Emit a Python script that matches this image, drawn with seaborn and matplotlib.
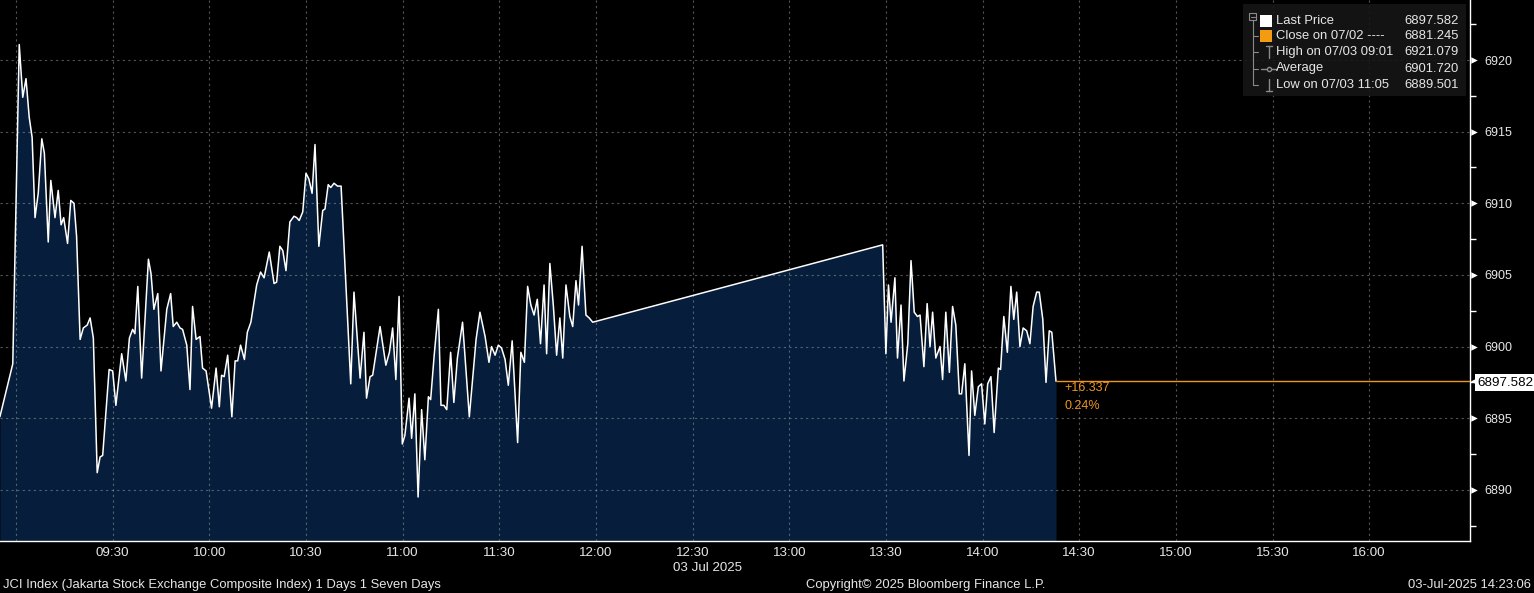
import matplotlib
matplotlib.use("Agg")
import matplotlib.pyplot as plt
import matplotlib.transforms as mtransforms
from matplotlib.patches import Rectangle
from matplotlib.lines import Line2D
import numpy as np
import pandas as pd
import seaborn as sns

# ---------------- data ----------------
minutes_after_0900 = [
    -5.0, -1.0, 1.0, 2.1, 3.1, 4.1, 5.0, 5.9, 6.9, 8.0, 8.8, 10.0, 10.8, 12.1, 13.1, 14.0, 14.8,
    16.0, 17.0, 18.0, 18.8, 19.9, 20.9, 22.1, 23.0, 24.0, 25.2, 26.1, 26.9, 28.9, 30.0, 31.0,
    32.8, 34.1, 35.2, 36.2, 36.9, 37.8, 39.0, 41.1, 41.9, 42.8, 44.0, 45.0, 46.8, 48.0, 48.8,
    49.9, 50.9, 51.7, 53.0, 54.0, 54.8, 55.9, 57.1, 57.9, 59.0, 60.7, 62.1, 63.1, 63.8, 64.6,
    65.7, 67.0, 68.0, 68.8, 69.7, 70.9, 71.8, 72.9, 74.7, 75.9, 77.0, 78.6, 80.1, 80.9, 81.9,
    82.8, 83.8, 85.0, 86.3, 87.1, 87.9, 89.0, 90.0, 90.9, 91.9, 92.8, 94.0, 95.2, 95.9, 96.9,
    97.7, 98.7, 99.8, 100.9, 103.9, 104.9, 106.8, 108.0, 108.8, 109.9, 110.7, 113.0, 114.8,
    115.9, 116.9, 117.9, 118.9, 119.9, 120.7, 122.0, 122.8, 123.8, 124.8, 125.9, 126.9, 128.0,
    128.7, 129.8, 131.1, 131.9, 132.8, 133.7, 134.9, 135.9, 137.0, 138.6, 140.7, 142.8, 144.0,
    145.6, 146.8, 147.6, 148.7, 149.7, 150.7, 151.8, 152.8, 154.0, 155.7, 156.7, 157.8, 158.8,
    159.8, 160.8, 161.8, 162.8, 163.9, 164.7, 165.7, 166.8, 167.8, 168.8, 169.7, 170.7, 171.9,
    172.8, 173.8, 174.6, 175.7, 176.9, 177.9, 179.0,
    269.0, 270.0, 270.8, 271.6, 272.8, 273.6, 274.7, 275.6, 276.8, 277.8, 278.8, 279.8, 280.6,
    281.8, 282.8, 283.7, 284.5, 285.5, 286.8, 287.6, 288.6, 289.7, 290.7, 291.7, 292.8, 293.5,
    294.5, 295.8, 296.6, 297.6, 298.7, 299.7, 300.7, 301.6, 302.6, 303.6, 304.9, 305.6, 306.6,
    307.7, 308.8, 309.7, 310.6, 311.6, 312.6, 313.7, 314.7, 315.7, 316.8, 317.6, 318.7, 319.7,
    320.7, 321.5, 322.8,
]
price = [
    6895.1, 6898.8, 6921.079, 6917.4, 6918.7, 6916.0, 6914.6, 6909.0, 6910.7, 6914.5, 6913.5,
    6907.3, 6911.6, 6909.0, 6910.9, 6908.5, 6909.0, 6907.2, 6910.2, 6910.0, 6907.7, 6900.5,
    6901.3, 6901.5, 6902.0, 6900.6, 6891.2, 6892.3, 6892.4, 6898.4, 6898.3, 6895.9, 6899.5,
    6897.6, 6900.6, 6901.2, 6900.9, 6904.2, 6897.8, 6906.1, 6905.1, 6902.6, 6903.7, 6898.3,
    6902.6, 6903.7, 6901.4, 6901.7, 6901.3, 6901.2, 6900.1, 6897.0, 6902.8, 6900.5, 6900.7,
    6898.5, 6898.3, 6895.7, 6898.5, 6895.8, 6898.0, 6897.9, 6899.4, 6895.1, 6899.0, 6899.0,
    6900.1, 6899.1, 6901.0, 6901.7, 6904.3, 6905.2, 6904.8, 6906.6, 6904.4, 6904.5, 6907.0,
    6906.7, 6905.3, 6908.7, 6909.1, 6909.0, 6908.8, 6909.4, 6912.1, 6911.7, 6910.7, 6914.1,
    6907.0, 6909.5, 6909.6, 6911.3, 6911.1, 6911.4, 6911.2, 6911.2, 6897.4, 6903.8, 6897.8,
    6901.0, 6896.4, 6897.9, 6898.0, 6901.4, 6898.7, 6899.6, 6901.3, 6897.7, 6903.5, 6893.2,
    6893.8, 6896.4, 6893.6, 6896.7, 6889.501, 6895.6, 6892.1, 6896.5, 6896.3, 6899.4, 6902.6,
    6895.9, 6895.9, 6895.6, 6899.6, 6896.1, 6899.2, 6901.7, 6895.1, 6900.5, 6902.4, 6900.7,
    6898.9, 6900.0, 6899.4, 6900.1, 6899.9, 6899.1, 6897.3, 6900.4, 6893.3, 6899.6, 6898.9,
    6904.2, 6902.9, 6902.2, 6903.3, 6900.2, 6904.3, 6899.5, 6905.8, 6902.8, 6899.4, 6902.0,
    6899.2, 6904.3, 6902.1, 6901.4, 6904.6, 6902.9, 6907.0, 6902.2, 6902.0, 6901.7,
    6907.1, 6899.5, 6904.3, 6901.7, 6904.8, 6899.2, 6902.9, 6897.6, 6900.2, 6906.0, 6902.4,
    6902.1, 6902.2, 6898.6, 6903.0, 6900.0, 6902.4, 6899.2, 6900.0, 6897.7, 6902.4, 6898.2,
    6902.8, 6901.5, 6896.7, 6896.7, 6898.8, 6892.4, 6898.3, 6895.2, 6897.2, 6897.4, 6894.6,
    6897.4, 6897.9, 6894.0, 6898.5, 6898.4, 6902.1, 6899.6, 6904.2, 6901.9, 6903.8, 6900.0,
    6901.3, 6901.1, 6900.2, 6902.8, 6903.8, 6903.8, 6901.9, 6897.5, 6901.1, 6901.0, 6897.582,
]

x_tick_minutes = [0, 30, 60, 90, 120, 150, 180, 210, 240, 270, 300, 330, 360, 390, 420]
x_tick_labels = ["", "09:30", "10:00", "10:30", "11:00", "11:30", "12:00", "12:30",
                 "13:00", "13:30", "14:00", "14:30", "15:00", "15:30", "16:00"]
y_ticks = [6890, 6895, 6900, 6905, 6910, 6915, 6920]
date_label = "03 Jul 2025"

prev_close = 6881.245
legend_labels = ["Last Price", "Close on 07/02 ----", "High on 07/03 09:01",
                 "Average", "Low on 07/03 11:05"]
legend_values = [6897.582, 6881.245, 6921.079, 6901.720, 6889.501]

footer_left = "JCI Index (Jakarta Stock Exchange Composite Index) 1 Days 1 Seven Days"
footer_mid = "Copyright\u00a9 2025 Bloomberg Finance L.P."
footer_right = "03-Jul-2025 14:23:06"

# ---------------- style ----------------
sns.set_style("dark")
plt.rcParams["font.family"] = ["Liberation Sans", "DejaVu Sans"]
FS = 9.4

TXT = "#e6e6e6"
ORANGE = "#f0961e"
FILL = "#061e3c"
W, H = 1534, 593
XMIN, XMAX = -4.97, 451.3
YMIN, YMAX = 6886.43, 6924.19


def fx(px):
    return px / W


def fy(py):
    return 1 - py / H


fig = plt.figure(figsize=(W / 100, H / 100), dpi=100, facecolor="black")
ax = fig.add_axes([0, 52 / H, 1470 / W, 541 / H])
ax.set_facecolor("black")

df = pd.DataFrame({"minute": minutes_after_0900, "price": price})
ax.fill_between(df["minute"], df["price"], YMIN, color=FILL, lw=0, zorder=1)
sns.lineplot(data=df, x="minute", y="price", color="white", lw=1.1, ax=ax,
             zorder=3, sort=False)
ax.set_xlabel("")
ax.set_ylabel("")

# ticks & grid
ax.set_xticks(x_tick_minutes)
ax.set_xticklabels(x_tick_labels)
ax.set_xticks([m + 15 for m in x_tick_minutes], minor=True)
ax.yaxis.tick_right()
ax.set_yticks(y_ticks)
ax.set_yticklabels([str(v) for v in y_ticks])
ax.set_yticks([v + 2.5 for v in y_ticks] + [y_ticks[0] - 2.5], minor=True)
ax.set_xlim(XMIN, XMAX)
ax.set_ylim(YMIN, YMAX)
ax.grid(True, which="major", color="#9a9a9a", alpha=0.55, lw=0.8,
        linestyle=(0, (2, 3)), zorder=2)
ax.set_axisbelow(False)

for s in ["top", "left"]:
    ax.spines[s].set_visible(False)
for s in ["bottom", "right"]:
    ax.spines[s].set_color("white")
    ax.spines[s].set_linewidth(1.0)

ax.tick_params(axis="x", which="major", colors="white", length=4, width=1,
               labelsize=9.6, labelcolor=TXT, pad=0)
ax.tick_params(axis="x", which="minor", colors="white", length=4, width=1)
ax.tick_params(axis="y", which="major", length=0, pad=10, labelsize=9,
               labelcolor=TXT, right=True, left=False)
ax.tick_params(axis="y", which="minor", colors="white", length=4, width=1,
               right=True, left=False)

# triangle markers at major y ticks
tr = mtransforms.blended_transform_factory(ax.transAxes, ax.transData)
ax.scatter([1.0025] * len(y_ticks), y_ticks, marker=">", s=22, color="white",
           transform=tr, clip_on=False, zorder=5, linewidths=0)

# last price line and labels
last_m, last_v = minutes_after_0900[-1], price[-1]
ax.hlines(last_v, last_m, XMAX, color=ORANGE, lw=1.0, zorder=4)
chg = last_v - prev_close
pct = chg / prev_close * 100
ax.annotate(f"+{chg:.3f}", xy=(last_m, last_v), xytext=(6, -5),
            textcoords="offset points", color=ORANGE, fontsize=9,
            va="center", ha="left")
ax.annotate(f"{pct:.2f}%", xy=(last_m, last_v), xytext=(6, -17.5),
            textcoords="offset points", color=ORANGE, fontsize=9,
            va="center", ha="left")
ax.scatter([1.0035], [last_v], marker="<", s=45, color="white", transform=tr,
           clip_on=False, zorder=6, linewidths=0)
ax.annotate(f"{last_v:.3f}", xy=(1.0, last_v), xycoords=tr, xytext=(5.5, -1),
            textcoords="offset points", color="black", fontsize=9.6,
            va="center", ha="left", annotation_clip=False, zorder=7,
            bbox=dict(boxstyle="square,pad=0.2", fc="white", ec="none"))

# date label under axis
fig.text(fx(708), fy(568), date_label, color=TXT, fontsize=9.6, ha="center", va="center")

# footer
fig.text(fx(3), fy(585), footer_left, color=TXT, fontsize=FS, ha="left", va="center")
fig.text(fx(926), fy(585), footer_mid, color=TXT, fontsize=FS, ha="center", va="center")
fig.text(fx(1531), fy(585), footer_right, color=TXT, fontsize=FS, ha="right", va="center")

# ---------------- legend box ----------------
T = fig.transFigure
fig.add_artist(Rectangle((fx(1243), fy(96)), fx(1466) - fx(1243), fy(4) - fy(96),
                         transform=T, fc="#161616", ec="none", alpha=0.88, zorder=10))
rows = [20.5, 36.3, 52.3, 68.5, 84.5]
GRAY = "#8a8a8a"
# tree
fig.add_artist(Rectangle((fx(1249), fy(20)), fx(7), 7 / H, transform=T, fc="none",
                         ec=GRAY, lw=0.8, zorder=11))
fig.add_artist(Line2D([fx(1250.5), fx(1254.5)], [fy(16.5), fy(16.5)], transform=T,
                      color=GRAY, lw=0.8, zorder=11))
fig.add_artist(Line2D([fx(1252.5), fx(1252.5)], [fy(20), fy(rows[-1])], transform=T,
                      color=GRAY, lw=0.8, zorder=11))
for r in rows[1:]:
    fig.add_artist(Line2D([fx(1252.5), fx(1258)], [fy(r), fy(r)], transform=T,
                          color=GRAY, lw=0.8, zorder=11))
# icons
fig.add_artist(Rectangle((fx(1260), fy(rows[0] + 6)), fx(12), 12 / H, transform=T,
                         fc="white", ec="none", zorder=11))
fig.add_artist(Rectangle((fx(1260), fy(rows[1] + 6)), fx(12), 12 / H, transform=T,
                         fc="#f39c12", ec="none", zorder=11))
fig.add_artist(Line2D([fx(1266), fx(1272)], [fy(rows[2] - 6), fy(rows[2] - 6)],
                      transform=T, color=GRAY, lw=1, zorder=11))
fig.add_artist(Line2D([fx(1269), fx(1269)], [fy(rows[2] - 6), fy(rows[2] + 6)],
                      transform=T, color=GRAY, lw=1, zorder=11))
fig.add_artist(Line2D([fx(1261), fx(1277)], [fy(rows[3]), fy(rows[3])],
                      transform=T, color=GRAY, lw=1, zorder=11))
fig.add_artist(Line2D([fx(1269)], [fy(rows[3])], transform=T, color=GRAY,
                      marker="o", ms=3, mfc="#161616", zorder=12))
fig.add_artist(Line2D([fx(1266), fx(1272)], [fy(rows[4] + 6), fy(rows[4] + 6)],
                      transform=T, color=GRAY, lw=1, zorder=11))
fig.add_artist(Line2D([fx(1269), fx(1269)], [fy(rows[4] - 6), fy(rows[4] + 6)],
                      transform=T, color=GRAY, lw=1, zorder=11))
for r, lab, val in zip(rows, legend_labels, legend_values):
    fig.text(fx(1276), fy(r), lab, color=TXT, fontsize=FS, ha="left", va="center",
             zorder=12)
    fig.text(fx(1459), fy(r), f"{val:.3f}", color=TXT, fontsize=FS, ha="right",
             va="center", zorder=12)

fig.savefig("out.png", dpi=100, facecolor="black")
